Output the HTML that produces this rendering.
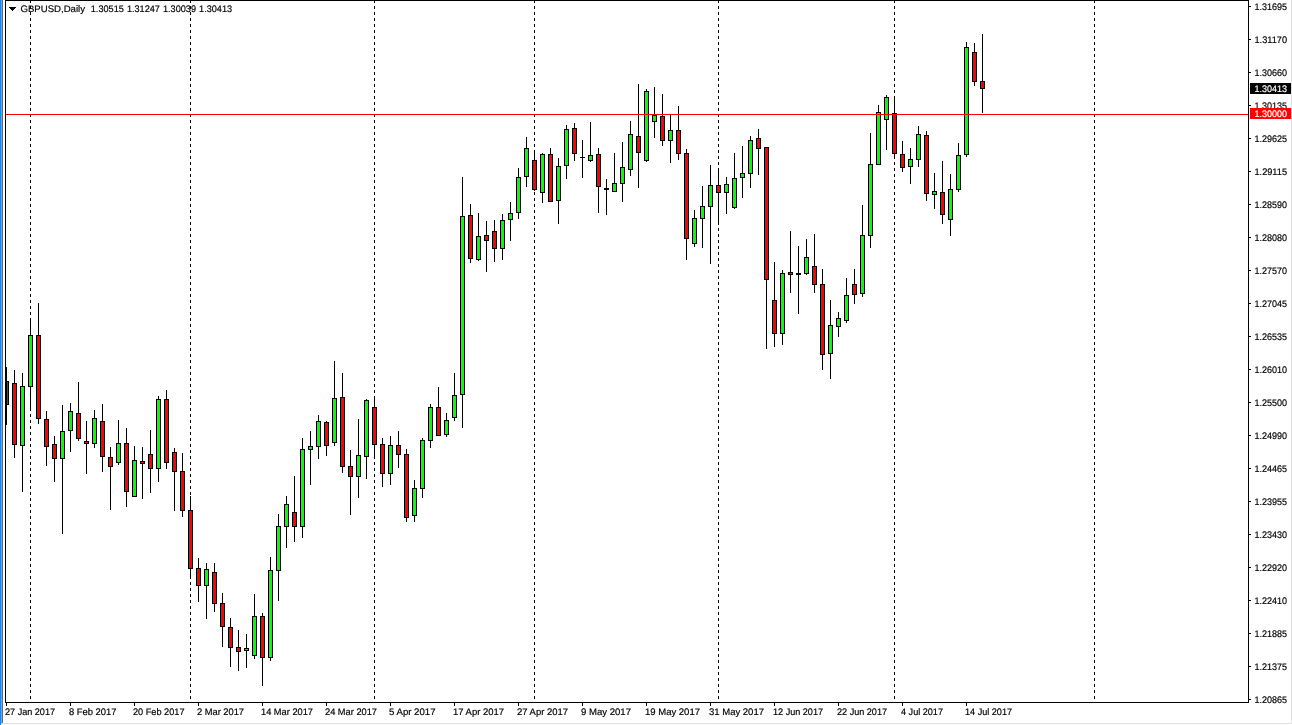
<!DOCTYPE html>
<html><head><meta charset="utf-8"><title>GBPUSD,Daily</title>
<style>
html,body{margin:0;padding:0;background:#fff;overflow:hidden}
body{width:1292px;height:725px}
svg{display:block}
text{font-family:"Liberation Sans",sans-serif;font-size:9.5px;fill:#000;stroke:#000;stroke-width:0.18px}
.w{fill:#fff;stroke:#fff}
</style></head><body>
<svg width="1292" height="725" viewBox="0 0 1292 725" shape-rendering="crispEdges">
<rect x="0" y="0" width="1292" height="725" fill="#fff"/>
<rect x="0" y="0" width="1" height="725" fill="#1a84e0"/>
<rect x="1" y="0" width="1" height="723" fill="#a09e9c"/>
<rect x="2" y="0" width="1" height="723" fill="#696969"/>
<rect x="2" y="723" width="1290" height="1" fill="#e1e1e1"/>
<rect x="1" y="723" width="1" height="1" fill="#c8c8c8"/>
<rect x="1291" y="0" width="1" height="724" fill="#e3e3e3"/>
<g stroke="#000" stroke-width="1" stroke-dasharray="3 3" fill="none">
<line x1="30.5" y1="0" x2="30.5" y2="702"/>
<line x1="190.5" y1="0" x2="190.5" y2="702"/>
<line x1="374.5" y1="0" x2="374.5" y2="702"/>
<line x1="534.5" y1="0" x2="534.5" y2="702"/>
<line x1="718.5" y1="0" x2="718.5" y2="702"/>
<line x1="894.5" y1="0" x2="894.5" y2="702"/>
<line x1="1094.5" y1="0" x2="1094.5" y2="702"/>
</g>
<rect x="5" y="0" width="1244" height="1" fill="#000"/>
<rect x="5" y="0" width="1" height="703" fill="#000"/>
<rect x="5" y="702" width="1244" height="1" fill="#000"/>
<rect x="1248" y="0" width="1" height="703" fill="#000"/>
<g>
<rect x="6" y="367" width="1" height="58" fill="#000"/><rect x="4" y="381" width="5" height="24" fill="#000"/><rect x="5" y="382" width="3" height="22" fill="#ff0000"/>
<rect x="14" y="370" width="1" height="88" fill="#000"/><rect x="12" y="383" width="5" height="62" fill="#000"/><rect x="13" y="384" width="3" height="60" fill="#ff0000"/>
<rect x="22" y="373" width="1" height="119" fill="#000"/><rect x="20" y="386" width="5" height="60" fill="#000"/><rect x="21" y="387" width="3" height="58" fill="#00ff00"/>
<rect x="30" y="318" width="1" height="93" fill="#000"/><rect x="28" y="335" width="5" height="52" fill="#000"/><rect x="29" y="336" width="3" height="50" fill="#00ff00"/>
<rect x="38" y="303" width="1" height="121" fill="#000"/><rect x="36" y="335" width="5" height="84" fill="#000"/><rect x="37" y="336" width="3" height="82" fill="#ff0000"/>
<rect x="46" y="411" width="1" height="55" fill="#000"/><rect x="44" y="419" width="5" height="28" fill="#000"/><rect x="45" y="420" width="3" height="26" fill="#ff0000"/>
<rect x="54" y="436" width="1" height="46" fill="#000"/><rect x="52" y="444" width="5" height="15" fill="#000"/><rect x="53" y="445" width="3" height="13" fill="#ff0000"/>
<rect x="62" y="405" width="1" height="129" fill="#000"/><rect x="60" y="431" width="5" height="28" fill="#000"/><rect x="61" y="432" width="3" height="26" fill="#00ff00"/>
<rect x="70" y="403" width="1" height="49" fill="#000"/><rect x="68" y="411" width="5" height="20" fill="#000"/><rect x="69" y="412" width="3" height="18" fill="#00ff00"/>
<rect x="78" y="382" width="1" height="59" fill="#000"/><rect x="76" y="413" width="5" height="26" fill="#000"/><rect x="77" y="414" width="3" height="24" fill="#ff0000"/>
<rect x="86" y="421" width="1" height="53" fill="#000"/><rect x="84" y="441" width="5" height="3" fill="#000"/><rect x="85" y="442" width="3" height="1" fill="#ff0000"/>
<rect x="94" y="410" width="1" height="38" fill="#000"/><rect x="92" y="418" width="5" height="26" fill="#000"/><rect x="93" y="419" width="3" height="24" fill="#00ff00"/>
<rect x="102" y="404" width="1" height="68" fill="#000"/><rect x="100" y="421" width="5" height="36" fill="#000"/><rect x="101" y="422" width="3" height="34" fill="#ff0000"/>
<rect x="110" y="447" width="1" height="63" fill="#000"/><rect x="108" y="457" width="5" height="10" fill="#000"/><rect x="109" y="458" width="3" height="8" fill="#ff0000"/>
<rect x="118" y="420" width="1" height="45" fill="#000"/><rect x="116" y="443" width="5" height="20" fill="#000"/><rect x="117" y="444" width="3" height="18" fill="#00ff00"/>
<rect x="126" y="428" width="1" height="79" fill="#000"/><rect x="124" y="443" width="5" height="49" fill="#000"/><rect x="125" y="444" width="3" height="47" fill="#ff0000"/>
<rect x="134" y="446" width="1" height="51" fill="#000"/><rect x="132" y="460" width="5" height="37" fill="#000"/><rect x="133" y="461" width="3" height="35" fill="#00ff00"/>
<rect x="142" y="447" width="1" height="52" fill="#000"/><rect x="140" y="461" width="5" height="3" fill="#000"/><rect x="141" y="462" width="3" height="1" fill="#ff0000"/>
<rect x="150" y="430" width="1" height="63" fill="#000"/><rect x="148" y="454" width="5" height="15" fill="#000"/><rect x="149" y="455" width="3" height="13" fill="#ff0000"/>
<rect x="158" y="396" width="1" height="86" fill="#000"/><rect x="156" y="399" width="5" height="70" fill="#000"/><rect x="157" y="400" width="3" height="68" fill="#00ff00"/>
<rect x="166" y="390" width="1" height="79" fill="#000"/><rect x="164" y="399" width="5" height="64" fill="#000"/><rect x="165" y="400" width="3" height="62" fill="#ff0000"/>
<rect x="174" y="448" width="1" height="63" fill="#000"/><rect x="172" y="452" width="5" height="20" fill="#000"/><rect x="173" y="453" width="3" height="18" fill="#ff0000"/>
<rect x="182" y="453" width="1" height="64" fill="#000"/><rect x="180" y="471" width="5" height="40" fill="#000"/><rect x="181" y="472" width="3" height="38" fill="#ff0000"/>
<rect x="190" y="496" width="1" height="83" fill="#000"/><rect x="188" y="510" width="5" height="59" fill="#000"/><rect x="189" y="511" width="3" height="57" fill="#ff0000"/>
<rect x="198" y="558" width="1" height="44" fill="#000"/><rect x="196" y="568" width="5" height="18" fill="#000"/><rect x="197" y="569" width="3" height="16" fill="#ff0000"/>
<rect x="206" y="563" width="1" height="56" fill="#000"/><rect x="204" y="569" width="5" height="17" fill="#000"/><rect x="205" y="570" width="3" height="15" fill="#00ff00"/>
<rect x="214" y="563" width="1" height="49" fill="#000"/><rect x="212" y="572" width="5" height="32" fill="#000"/><rect x="213" y="573" width="3" height="30" fill="#ff0000"/>
<rect x="222" y="593" width="1" height="54" fill="#000"/><rect x="220" y="603" width="5" height="24" fill="#000"/><rect x="221" y="604" width="3" height="22" fill="#ff0000"/>
<rect x="230" y="618" width="1" height="49" fill="#000"/><rect x="228" y="627" width="5" height="21" fill="#000"/><rect x="229" y="628" width="3" height="19" fill="#ff0000"/>
<rect x="238" y="630" width="1" height="41" fill="#000"/><rect x="236" y="647" width="5" height="5" fill="#000"/><rect x="237" y="648" width="3" height="3" fill="#ff0000"/>
<rect x="246" y="634" width="1" height="34" fill="#000"/><rect x="244" y="648" width="5" height="3" fill="#000"/><rect x="245" y="649" width="3" height="1" fill="#00ff00"/>
<rect x="254" y="594" width="1" height="65" fill="#000"/><rect x="252" y="616" width="5" height="40" fill="#000"/><rect x="253" y="617" width="3" height="38" fill="#00ff00"/>
<rect x="262" y="613" width="1" height="73" fill="#000"/><rect x="260" y="616" width="5" height="42" fill="#000"/><rect x="261" y="617" width="3" height="40" fill="#ff0000"/>
<rect x="270" y="557" width="1" height="104" fill="#000"/><rect x="268" y="570" width="5" height="88" fill="#000"/><rect x="269" y="571" width="3" height="86" fill="#00ff00"/>
<rect x="278" y="514" width="1" height="87" fill="#000"/><rect x="276" y="526" width="5" height="45" fill="#000"/><rect x="277" y="527" width="3" height="43" fill="#00ff00"/>
<rect x="286" y="496" width="1" height="52" fill="#000"/><rect x="284" y="504" width="5" height="23" fill="#000"/><rect x="285" y="505" width="3" height="21" fill="#00ff00"/>
<rect x="294" y="476" width="1" height="66" fill="#000"/><rect x="292" y="512" width="5" height="15" fill="#000"/><rect x="293" y="513" width="3" height="13" fill="#ff0000"/>
<rect x="302" y="438" width="1" height="100" fill="#000"/><rect x="300" y="449" width="5" height="78" fill="#000"/><rect x="301" y="450" width="3" height="76" fill="#00ff00"/>
<rect x="310" y="431" width="1" height="54" fill="#000"/><rect x="308" y="446" width="5" height="4" fill="#000"/><rect x="309" y="447" width="3" height="2" fill="#00ff00"/>
<rect x="318" y="415" width="1" height="44" fill="#000"/><rect x="316" y="421" width="5" height="26" fill="#000"/><rect x="317" y="422" width="3" height="24" fill="#00ff00"/>
<rect x="326" y="421" width="1" height="35" fill="#000"/><rect x="324" y="422" width="5" height="24" fill="#000"/><rect x="325" y="423" width="3" height="22" fill="#ff0000"/>
<rect x="334" y="361" width="1" height="85" fill="#000"/><rect x="332" y="398" width="5" height="45" fill="#000"/><rect x="333" y="399" width="3" height="43" fill="#00ff00"/>
<rect x="342" y="373" width="1" height="100" fill="#000"/><rect x="340" y="397" width="5" height="70" fill="#000"/><rect x="341" y="398" width="3" height="68" fill="#ff0000"/>
<rect x="350" y="450" width="1" height="65" fill="#000"/><rect x="348" y="466" width="5" height="11" fill="#000"/><rect x="349" y="467" width="3" height="9" fill="#ff0000"/>
<rect x="358" y="419" width="1" height="79" fill="#000"/><rect x="356" y="455" width="5" height="22" fill="#000"/><rect x="357" y="456" width="3" height="20" fill="#00ff00"/>
<rect x="366" y="399" width="1" height="80" fill="#000"/><rect x="364" y="400" width="5" height="57" fill="#000"/><rect x="365" y="401" width="3" height="55" fill="#00ff00"/>
<rect x="374" y="396" width="1" height="63" fill="#000"/><rect x="372" y="407" width="5" height="38" fill="#000"/><rect x="373" y="408" width="3" height="36" fill="#ff0000"/>
<rect x="382" y="438" width="1" height="49" fill="#000"/><rect x="380" y="444" width="5" height="30" fill="#000"/><rect x="381" y="445" width="3" height="28" fill="#ff0000"/>
<rect x="390" y="436" width="1" height="49" fill="#000"/><rect x="388" y="445" width="5" height="29" fill="#000"/><rect x="389" y="446" width="3" height="27" fill="#00ff00"/>
<rect x="398" y="431" width="1" height="37" fill="#000"/><rect x="396" y="445" width="5" height="10" fill="#000"/><rect x="397" y="446" width="3" height="8" fill="#ff0000"/>
<rect x="406" y="449" width="1" height="73" fill="#000"/><rect x="404" y="454" width="5" height="64" fill="#000"/><rect x="405" y="455" width="3" height="62" fill="#ff0000"/>
<rect x="414" y="480" width="1" height="42" fill="#000"/><rect x="412" y="488" width="5" height="28" fill="#000"/><rect x="413" y="489" width="3" height="26" fill="#00ff00"/>
<rect x="422" y="438" width="1" height="60" fill="#000"/><rect x="420" y="440" width="5" height="49" fill="#000"/><rect x="421" y="441" width="3" height="47" fill="#00ff00"/>
<rect x="430" y="404" width="1" height="44" fill="#000"/><rect x="428" y="407" width="5" height="34" fill="#000"/><rect x="429" y="408" width="3" height="32" fill="#00ff00"/>
<rect x="438" y="387" width="1" height="49" fill="#000"/><rect x="436" y="407" width="5" height="29" fill="#000"/><rect x="437" y="408" width="3" height="27" fill="#ff0000"/>
<rect x="446" y="413" width="1" height="24" fill="#000"/><rect x="444" y="420" width="5" height="15" fill="#000"/><rect x="445" y="421" width="3" height="13" fill="#00ff00"/>
<rect x="454" y="373" width="1" height="48" fill="#000"/><rect x="452" y="395" width="5" height="23" fill="#000"/><rect x="453" y="396" width="3" height="21" fill="#00ff00"/>
<rect x="462" y="177" width="1" height="251" fill="#000"/><rect x="460" y="216" width="5" height="179" fill="#000"/><rect x="461" y="217" width="3" height="177" fill="#00ff00"/>
<rect x="470" y="204" width="1" height="59" fill="#000"/><rect x="468" y="215" width="5" height="44" fill="#000"/><rect x="469" y="216" width="3" height="42" fill="#ff0000"/>
<rect x="478" y="213" width="1" height="48" fill="#000"/><rect x="476" y="236" width="5" height="24" fill="#000"/><rect x="477" y="237" width="3" height="22" fill="#00ff00"/>
<rect x="486" y="221" width="1" height="51" fill="#000"/><rect x="484" y="235" width="5" height="6" fill="#000"/><rect x="485" y="236" width="3" height="4" fill="#ff0000"/>
<rect x="494" y="220" width="1" height="42" fill="#000"/><rect x="492" y="231" width="5" height="18" fill="#000"/><rect x="493" y="232" width="3" height="16" fill="#ff0000"/>
<rect x="502" y="214" width="1" height="46" fill="#000"/><rect x="500" y="220" width="5" height="29" fill="#000"/><rect x="501" y="221" width="3" height="27" fill="#00ff00"/>
<rect x="510" y="202" width="1" height="39" fill="#000"/><rect x="508" y="213" width="5" height="7" fill="#000"/><rect x="509" y="214" width="3" height="5" fill="#00ff00"/>
<rect x="518" y="168" width="1" height="51" fill="#000"/><rect x="516" y="177" width="5" height="36" fill="#000"/><rect x="517" y="178" width="3" height="34" fill="#00ff00"/>
<rect x="526" y="137" width="1" height="50" fill="#000"/><rect x="524" y="148" width="5" height="29" fill="#000"/><rect x="525" y="149" width="3" height="27" fill="#00ff00"/>
<rect x="534" y="150" width="1" height="41" fill="#000"/><rect x="532" y="160" width="5" height="30" fill="#000"/><rect x="533" y="161" width="3" height="28" fill="#ff0000"/>
<rect x="542" y="153" width="1" height="50" fill="#000"/><rect x="540" y="154" width="5" height="39" fill="#000"/><rect x="541" y="155" width="3" height="37" fill="#00ff00"/>
<rect x="550" y="148" width="1" height="54" fill="#000"/><rect x="548" y="154" width="5" height="48" fill="#000"/><rect x="549" y="155" width="3" height="46" fill="#ff0000"/>
<rect x="558" y="158" width="1" height="66" fill="#000"/><rect x="556" y="166" width="5" height="35" fill="#000"/><rect x="557" y="167" width="3" height="33" fill="#00ff00"/>
<rect x="566" y="125" width="1" height="54" fill="#000"/><rect x="564" y="129" width="5" height="37" fill="#000"/><rect x="565" y="130" width="3" height="35" fill="#00ff00"/>
<rect x="574" y="123" width="1" height="38" fill="#000"/><rect x="572" y="128" width="5" height="26" fill="#000"/><rect x="573" y="129" width="3" height="24" fill="#ff0000"/>
<rect x="582" y="140" width="1" height="38" fill="#000"/><rect x="580" y="157" width="5" height="1" fill="#000"/>
<rect x="590" y="122" width="1" height="40" fill="#000"/><rect x="588" y="155" width="5" height="6" fill="#000"/><rect x="589" y="156" width="3" height="4" fill="#00ff00"/>
<rect x="598" y="148" width="1" height="65" fill="#000"/><rect x="596" y="154" width="5" height="33" fill="#000"/><rect x="597" y="155" width="3" height="31" fill="#ff0000"/>
<rect x="606" y="179" width="1" height="36" fill="#000"/><rect x="604" y="188" width="5" height="2" fill="#000"/>
<rect x="614" y="153" width="1" height="39" fill="#000"/><rect x="612" y="183" width="5" height="9" fill="#000"/><rect x="613" y="184" width="3" height="7" fill="#00ff00"/>
<rect x="622" y="142" width="1" height="60" fill="#000"/><rect x="620" y="167" width="5" height="17" fill="#000"/><rect x="621" y="168" width="3" height="15" fill="#00ff00"/>
<rect x="630" y="121" width="1" height="55" fill="#000"/><rect x="628" y="134" width="5" height="36" fill="#000"/><rect x="629" y="135" width="3" height="34" fill="#00ff00"/>
<rect x="638" y="84" width="1" height="104" fill="#000"/><rect x="636" y="136" width="5" height="17" fill="#000"/><rect x="637" y="137" width="3" height="15" fill="#ff0000"/>
<rect x="646" y="89" width="1" height="73" fill="#000"/><rect x="644" y="91" width="5" height="70" fill="#000"/><rect x="645" y="92" width="3" height="68" fill="#00ff00"/>
<rect x="654" y="87" width="1" height="51" fill="#000"/><rect x="652" y="115" width="5" height="7" fill="#000"/><rect x="653" y="116" width="3" height="5" fill="#00ff00"/>
<rect x="662" y="94" width="1" height="52" fill="#000"/><rect x="660" y="116" width="5" height="25" fill="#000"/><rect x="661" y="117" width="3" height="23" fill="#ff0000"/>
<rect x="670" y="115" width="1" height="48" fill="#000"/><rect x="668" y="130" width="5" height="11" fill="#000"/><rect x="669" y="131" width="3" height="9" fill="#00ff00"/>
<rect x="678" y="106" width="1" height="54" fill="#000"/><rect x="676" y="130" width="5" height="24" fill="#000"/><rect x="677" y="131" width="3" height="22" fill="#ff0000"/>
<rect x="686" y="149" width="1" height="111" fill="#000"/><rect x="684" y="153" width="5" height="86" fill="#000"/><rect x="685" y="154" width="3" height="84" fill="#ff0000"/>
<rect x="694" y="210" width="1" height="37" fill="#000"/><rect x="692" y="218" width="5" height="26" fill="#000"/><rect x="693" y="219" width="3" height="24" fill="#00ff00"/>
<rect x="702" y="186" width="1" height="62" fill="#000"/><rect x="700" y="206" width="5" height="13" fill="#000"/><rect x="701" y="207" width="3" height="11" fill="#00ff00"/>
<rect x="710" y="165" width="1" height="99" fill="#000"/><rect x="708" y="185" width="5" height="22" fill="#000"/><rect x="709" y="186" width="3" height="20" fill="#00ff00"/>
<rect x="718" y="168" width="1" height="57" fill="#000"/><rect x="716" y="185" width="5" height="8" fill="#000"/><rect x="717" y="186" width="3" height="6" fill="#ff0000"/>
<rect x="726" y="177" width="1" height="37" fill="#000"/><rect x="724" y="184" width="5" height="9" fill="#000"/><rect x="725" y="185" width="3" height="7" fill="#00ff00"/>
<rect x="734" y="153" width="1" height="56" fill="#000"/><rect x="732" y="178" width="5" height="30" fill="#000"/><rect x="733" y="179" width="3" height="28" fill="#00ff00"/>
<rect x="742" y="146" width="1" height="52" fill="#000"/><rect x="740" y="173" width="5" height="5" fill="#000"/><rect x="741" y="174" width="3" height="3" fill="#00ff00"/>
<rect x="750" y="136" width="1" height="52" fill="#000"/><rect x="748" y="140" width="5" height="34" fill="#000"/><rect x="749" y="141" width="3" height="32" fill="#00ff00"/>
<rect x="758" y="129" width="1" height="46" fill="#000"/><rect x="756" y="138" width="5" height="11" fill="#000"/><rect x="757" y="139" width="3" height="9" fill="#ff0000"/>
<rect x="766" y="147" width="1" height="202" fill="#000"/><rect x="764" y="147" width="5" height="133" fill="#000"/><rect x="765" y="148" width="3" height="131" fill="#ff0000"/>
<rect x="774" y="262" width="1" height="85" fill="#000"/><rect x="772" y="300" width="5" height="34" fill="#000"/><rect x="773" y="301" width="3" height="32" fill="#ff0000"/>
<rect x="782" y="270" width="1" height="75" fill="#000"/><rect x="780" y="273" width="5" height="61" fill="#000"/><rect x="781" y="274" width="3" height="59" fill="#00ff00"/>
<rect x="790" y="231" width="1" height="62" fill="#000"/><rect x="788" y="272" width="5" height="3" fill="#000"/><rect x="789" y="273" width="3" height="1" fill="#ff0000"/>
<rect x="798" y="246" width="1" height="68" fill="#000"/><rect x="796" y="273" width="5" height="2" fill="#000"/>
<rect x="806" y="239" width="1" height="36" fill="#000"/><rect x="804" y="257" width="5" height="17" fill="#000"/><rect x="805" y="258" width="3" height="15" fill="#00ff00"/>
<rect x="814" y="234" width="1" height="59" fill="#000"/><rect x="812" y="266" width="5" height="19" fill="#000"/><rect x="813" y="267" width="3" height="17" fill="#ff0000"/>
<rect x="822" y="269" width="1" height="101" fill="#000"/><rect x="820" y="284" width="5" height="71" fill="#000"/><rect x="821" y="285" width="3" height="69" fill="#ff0000"/>
<rect x="830" y="300" width="1" height="79" fill="#000"/><rect x="828" y="325" width="5" height="29" fill="#000"/><rect x="829" y="326" width="3" height="27" fill="#00ff00"/>
<rect x="838" y="312" width="1" height="25" fill="#000"/><rect x="836" y="318" width="5" height="9" fill="#000"/><rect x="837" y="319" width="3" height="7" fill="#00ff00"/>
<rect x="846" y="278" width="1" height="45" fill="#000"/><rect x="844" y="295" width="5" height="26" fill="#000"/><rect x="845" y="296" width="3" height="24" fill="#00ff00"/>
<rect x="854" y="269" width="1" height="35" fill="#000"/><rect x="852" y="284" width="5" height="11" fill="#000"/><rect x="853" y="285" width="3" height="9" fill="#ff0000"/>
<rect x="862" y="205" width="1" height="92" fill="#000"/><rect x="860" y="235" width="5" height="59" fill="#000"/><rect x="861" y="236" width="3" height="57" fill="#00ff00"/>
<rect x="870" y="133" width="1" height="115" fill="#000"/><rect x="868" y="164" width="5" height="72" fill="#000"/><rect x="869" y="165" width="3" height="70" fill="#00ff00"/>
<rect x="878" y="105" width="1" height="60" fill="#000"/><rect x="876" y="112" width="5" height="53" fill="#000"/><rect x="877" y="113" width="3" height="51" fill="#00ff00"/>
<rect x="886" y="95" width="1" height="55" fill="#000"/><rect x="884" y="97" width="5" height="23" fill="#000"/><rect x="885" y="98" width="3" height="21" fill="#00ff00"/>
<rect x="894" y="96" width="1" height="63" fill="#000"/><rect x="892" y="113" width="5" height="41" fill="#000"/><rect x="893" y="114" width="3" height="39" fill="#ff0000"/>
<rect x="902" y="141" width="1" height="31" fill="#000"/><rect x="900" y="154" width="5" height="14" fill="#000"/><rect x="901" y="155" width="3" height="12" fill="#ff0000"/>
<rect x="910" y="148" width="1" height="36" fill="#000"/><rect x="908" y="159" width="5" height="8" fill="#000"/><rect x="909" y="160" width="3" height="6" fill="#00ff00"/>
<rect x="918" y="126" width="1" height="41" fill="#000"/><rect x="916" y="134" width="5" height="26" fill="#000"/><rect x="917" y="135" width="3" height="24" fill="#00ff00"/>
<rect x="926" y="131" width="1" height="70" fill="#000"/><rect x="924" y="135" width="5" height="59" fill="#000"/><rect x="925" y="136" width="3" height="57" fill="#ff0000"/>
<rect x="934" y="173" width="1" height="36" fill="#000"/><rect x="932" y="191" width="5" height="4" fill="#000"/><rect x="933" y="192" width="3" height="2" fill="#00ff00"/>
<rect x="942" y="161" width="1" height="63" fill="#000"/><rect x="940" y="192" width="5" height="23" fill="#000"/><rect x="941" y="193" width="3" height="21" fill="#ff0000"/>
<rect x="950" y="174" width="1" height="62" fill="#000"/><rect x="948" y="189" width="5" height="31" fill="#000"/><rect x="949" y="190" width="3" height="29" fill="#00ff00"/>
<rect x="958" y="143" width="1" height="49" fill="#000"/><rect x="956" y="155" width="5" height="35" fill="#000"/><rect x="957" y="156" width="3" height="33" fill="#00ff00"/>
<rect x="966" y="42" width="1" height="115" fill="#000"/><rect x="964" y="47" width="5" height="108" fill="#000"/><rect x="965" y="48" width="3" height="106" fill="#00ff00"/>
<rect x="974" y="43" width="1" height="43" fill="#000"/><rect x="972" y="52" width="5" height="30" fill="#000"/><rect x="973" y="53" width="3" height="28" fill="#ff0000"/>
<rect x="982" y="34" width="1" height="79" fill="#000"/><rect x="980" y="81" width="5" height="8" fill="#000"/><rect x="981" y="82" width="3" height="6" fill="#ff0000"/>
</g>
<rect x="3" y="1" width="2" height="722" fill="#fff"/>
<rect x="5" y="0" width="1" height="703" fill="#000"/>
<rect x="6" y="367" width="1" height="58" fill="#000"/>
<rect x="6" y="114" width="1242" height="1" fill="#ff0000"/>
<path d="M9 7h7l-3.5 4z" fill="#000" shape-rendering="crispEdges"/>
<g text-rendering="geometricPrecision">
<text x="20.5" y="12" textLength="64.5" lengthAdjust="spacingAndGlyphs">GBPUSD,Daily</text>
<text x="90.8" y="12" textLength="33" lengthAdjust="spacingAndGlyphs">1.30515</text>
<text x="126.9" y="12" textLength="33" lengthAdjust="spacingAndGlyphs">1.31247</text>
<text x="163.0" y="12" textLength="33" lengthAdjust="spacingAndGlyphs">1.30039</text>
<text x="199.1" y="12" textLength="33" lengthAdjust="spacingAndGlyphs">1.30413</text>
<rect x="1249" y="6" width="2" height="1" fill="#000"/><text x="1254.5" y="10" textLength="32.5" lengthAdjust="spacingAndGlyphs">1.31695</text>
<rect x="1249" y="39" width="2" height="1" fill="#000"/><text x="1254.5" y="43" textLength="32.5" lengthAdjust="spacingAndGlyphs">1.31170</text>
<rect x="1249" y="72" width="2" height="1" fill="#000"/><text x="1254.5" y="76" textLength="32.5" lengthAdjust="spacingAndGlyphs">1.30660</text>
<rect x="1249" y="105" width="2" height="1" fill="#000"/><text x="1254.5" y="109" textLength="32.5" lengthAdjust="spacingAndGlyphs">1.30135</text>
<rect x="1249" y="138" width="2" height="1" fill="#000"/><text x="1254.5" y="142" textLength="32.5" lengthAdjust="spacingAndGlyphs">1.29625</text>
<rect x="1249" y="171" width="2" height="1" fill="#000"/><text x="1254.5" y="175" textLength="32.5" lengthAdjust="spacingAndGlyphs">1.29115</text>
<rect x="1249" y="204" width="2" height="1" fill="#000"/><text x="1254.5" y="208" textLength="32.5" lengthAdjust="spacingAndGlyphs">1.28590</text>
<rect x="1249" y="237" width="2" height="1" fill="#000"/><text x="1254.5" y="241" textLength="32.5" lengthAdjust="spacingAndGlyphs">1.28080</text>
<rect x="1249" y="270" width="2" height="1" fill="#000"/><text x="1254.5" y="274" textLength="32.5" lengthAdjust="spacingAndGlyphs">1.27570</text>
<rect x="1249" y="303" width="2" height="1" fill="#000"/><text x="1254.5" y="307" textLength="32.5" lengthAdjust="spacingAndGlyphs">1.27045</text>
<rect x="1249" y="336" width="2" height="1" fill="#000"/><text x="1254.5" y="340" textLength="32.5" lengthAdjust="spacingAndGlyphs">1.26535</text>
<rect x="1249" y="369" width="2" height="1" fill="#000"/><text x="1254.5" y="373" textLength="32.5" lengthAdjust="spacingAndGlyphs">1.26010</text>
<rect x="1249" y="402" width="2" height="1" fill="#000"/><text x="1254.5" y="406" textLength="32.5" lengthAdjust="spacingAndGlyphs">1.25500</text>
<rect x="1249" y="435" width="2" height="1" fill="#000"/><text x="1254.5" y="439" textLength="32.5" lengthAdjust="spacingAndGlyphs">1.24990</text>
<rect x="1249" y="468" width="2" height="1" fill="#000"/><text x="1254.5" y="472" textLength="32.5" lengthAdjust="spacingAndGlyphs">1.24465</text>
<rect x="1249" y="501" width="2" height="1" fill="#000"/><text x="1254.5" y="505" textLength="32.5" lengthAdjust="spacingAndGlyphs">1.23955</text>
<rect x="1249" y="534" width="2" height="1" fill="#000"/><text x="1254.5" y="538" textLength="32.5" lengthAdjust="spacingAndGlyphs">1.23430</text>
<rect x="1249" y="567" width="2" height="1" fill="#000"/><text x="1254.5" y="571" textLength="32.5" lengthAdjust="spacingAndGlyphs">1.22920</text>
<rect x="1249" y="600" width="2" height="1" fill="#000"/><text x="1254.5" y="604" textLength="32.5" lengthAdjust="spacingAndGlyphs">1.22410</text>
<rect x="1249" y="633" width="2" height="1" fill="#000"/><text x="1254.5" y="637" textLength="32.5" lengthAdjust="spacingAndGlyphs">1.21885</text>
<rect x="1249" y="666" width="2" height="1" fill="#000"/><text x="1254.5" y="670" textLength="32.5" lengthAdjust="spacingAndGlyphs">1.21375</text>
<rect x="1249" y="699" width="2" height="1" fill="#000"/><text x="1254.5" y="703" textLength="32.5" lengthAdjust="spacingAndGlyphs">1.20865</text>
<rect x="1250" y="83" width="41" height="11" fill="#000"/>
<text class="w" x="1254.5" y="92" textLength="32.5" lengthAdjust="spacingAndGlyphs">1.30413</text>
<rect x="1250" y="108" width="41" height="11" fill="#ff0000"/>
<text class="w" x="1254.5" y="117" textLength="32.5" lengthAdjust="spacingAndGlyphs">1.30000</text>
<rect x="6" y="703" width="1" height="3" fill="#000"/><text x="5" y="715" textLength="50.0" lengthAdjust="spacingAndGlyphs">27 Jan 2017</text>
<rect x="70" y="703" width="1" height="3" fill="#000"/><text x="69" y="715" textLength="47.5" lengthAdjust="spacingAndGlyphs">8 Feb 2017</text>
<rect x="134" y="703" width="1" height="3" fill="#000"/><text x="133" y="715" textLength="51.5" lengthAdjust="spacingAndGlyphs">20 Feb 2017</text>
<rect x="198" y="703" width="1" height="3" fill="#000"/><text x="197" y="715" textLength="47.0" lengthAdjust="spacingAndGlyphs">2 Mar 2017</text>
<rect x="262" y="703" width="1" height="3" fill="#000"/><text x="261" y="715" textLength="52.0" lengthAdjust="spacingAndGlyphs">14 Mar 2017</text>
<rect x="326" y="703" width="1" height="3" fill="#000"/><text x="325" y="715" textLength="52.0" lengthAdjust="spacingAndGlyphs">24 Mar 2017</text>
<rect x="390" y="703" width="1" height="3" fill="#000"/><text x="389" y="715" textLength="46.5" lengthAdjust="spacingAndGlyphs">5 Apr 2017</text>
<rect x="454" y="703" width="1" height="3" fill="#000"/><text x="453" y="715" textLength="51.0" lengthAdjust="spacingAndGlyphs">17 Apr 2017</text>
<rect x="518" y="703" width="1" height="3" fill="#000"/><text x="517" y="715" textLength="51.0" lengthAdjust="spacingAndGlyphs">27 Apr 2017</text>
<rect x="582" y="703" width="1" height="3" fill="#000"/><text x="581" y="715" textLength="50.0" lengthAdjust="spacingAndGlyphs">9 May 2017</text>
<rect x="646" y="703" width="1" height="3" fill="#000"/><text x="645" y="715" textLength="55.0" lengthAdjust="spacingAndGlyphs">19 May 2017</text>
<rect x="710" y="703" width="1" height="3" fill="#000"/><text x="709" y="715" textLength="55.0" lengthAdjust="spacingAndGlyphs">31 May 2017</text>
<rect x="774" y="703" width="1" height="3" fill="#000"/><text x="773" y="715" textLength="50.0" lengthAdjust="spacingAndGlyphs">12 Jun 2017</text>
<rect x="838" y="703" width="1" height="3" fill="#000"/><text x="837" y="715" textLength="50.0" lengthAdjust="spacingAndGlyphs">22 Jun 2017</text>
<rect x="902" y="703" width="1" height="3" fill="#000"/><text x="901" y="715" textLength="42.0" lengthAdjust="spacingAndGlyphs">4 Jul 2017</text>
<rect x="966" y="703" width="1" height="3" fill="#000"/><text x="965" y="715" textLength="47.0" lengthAdjust="spacingAndGlyphs">14 Jul 2017</text>
</g>
</svg>
</body></html>
